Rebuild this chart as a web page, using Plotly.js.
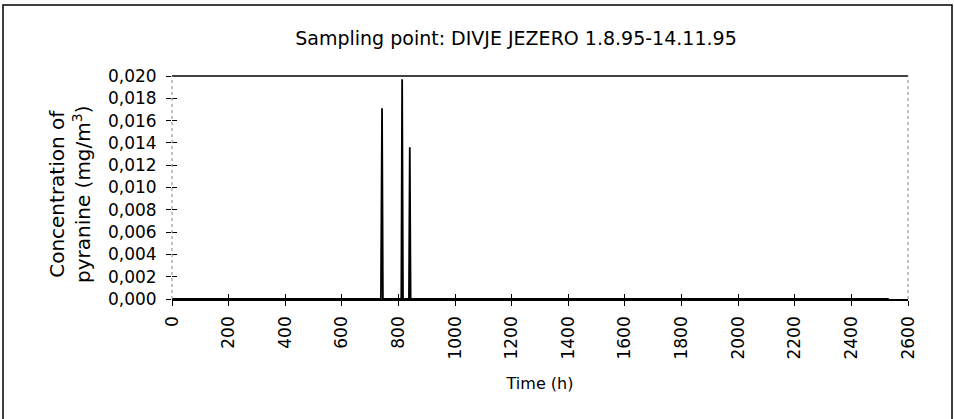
<!DOCTYPE html>
<html>
<head>
<meta charset="utf-8">
<script src="https://cdn.plot.ly/plotly-3.0.1.min.js"></script>
<style>
html,body{margin:0;padding:0;background:#fff;}
#chart{width:954px;height:419px;}
</style>
</head>
<body>
<div id="chart"></div>
<script>
const timeH = [0, 738, 742, 745, 810, 813, 816, 837, 840, 843, 2532];
const concentration = [0, 0, 0.0171, 0, 0, 0.0197, 0, 0, 0.0136, 0, 0];
const xTicks = [0, 200, 400, 600, 800, 1000, 1200, 1400, 1600, 1800, 2000, 2200, 2400, 2600];
const yTicks = [0, 0.002, 0.004, 0.006, 0.008, 0.010, 0.012, 0.014, 0.016, 0.018, 0.020];
const titleText = 'Sampling point: DIVJE JEZERO 1.8.95-14.11.95';
const xTitle = 'Time (h)';
const yTitle = 'Concentration of<br>pyranine (mg/m<sup>3</sup>)';

const fam = 'DejaVu Sans, Arial, sans-serif';
const tickFont = {family: fam, size: 17, color: '#000'};
const titleFont = {family: fam, size: 19, color: '#000'};
const xTitleFont = {family: fam, size: 16, color: '#000'};
const yTitleFont = {family: fam, size: 20, color: '#000'};

const trace = {
  x: timeH, y: concentration, type: 'scatter', mode: 'lines',
  line: {color: '#000', width: 1.8}, showlegend: false, hoverinfo: 'none'
};
const traceInner = {
  x: [0], y: [0], xaxis: 'x2', yaxis: 'y2', type: 'scatter', mode: 'markers',
  marker: {opacity: 0}, showlegend: false, hoverinfo: 'none'
};

const layout = {
  width: 954, height: 419,
  margin: {l: 172, r: 46, t: 76, b: 120},
  paper_bgcolor: '#fff', plot_bgcolor: '#fff',
  separators: ',.',
  font: tickFont,
  title: {text: titleText, font: titleFont, x: 516/954, xanchor: 'center', y: 1 - 38/419, yanchor: 'middle'},
  xaxis: {
    range: [0, 2600], tickvals: xTicks, ticktext: xTicks.map(String),
    tickangle: -90, ticks: 'outside', ticklen: 5, tickcolor: '#000', tickwidth: 1,
    ticklabelstandoff: 4,
    showgrid: false, zeroline: false, showline: true, linecolor: '#000', linewidth: 1.5,
    tickfont: tickFont, title: {text: xTitle, font: xTitleFont, standoff: 19}, fixedrange: true
  },
  yaxis: {
    range: [0, 0.020], tickvals: yTicks, tickformat: '.3f',
    ticks: 'outside', ticklen: 5, tickcolor: '#000', tickwidth: 1,
    ticklabelstandoff: 6,
    showgrid: false, zeroline: false, showline: false,
    tickfont: tickFont, fixedrange: true
  },
  xaxis2: {
    overlaying: 'x', range: [0, 2600], tickvals: xTicks, ticks: 'inside', ticklen: 5,
    tickcolor: '#000', showticklabels: false, showgrid: false, zeroline: false, showline: false, fixedrange: true
  },
  yaxis2: {
    overlaying: 'y', range: [0, 0.020], tickvals: yTicks, ticks: 'inside', ticklen: 5,
    tickcolor: '#000', showticklabels: false, showgrid: false, zeroline: false, showline: false, fixedrange: true
  },
  annotations: [
    {text: yTitle, xref: 'paper', yref: 'paper', x: (70 - 172) / 736, y: (299 - 194) / 223,
     xanchor: 'center', yanchor: 'middle', textangle: -90, showarrow: false, font: yTitleFont}
  ],
  shapes: [
    {type: 'line', xref: 'paper', yref: 'paper', x0: 0, x1: 1, y0: 1, y1: 1, line: {color: '#000', width: 1.5}},
    {type: 'line', xref: 'paper', yref: 'paper', x0: 0, x1: 0, y0: 0, y1: 1, line: {color: '#888', width: 1, dash: 'dot'}},
    {type: 'line', xref: 'paper', yref: 'paper', x0: 1, x1: 1, y0: 0, y1: 1, line: {color: '#888', width: 1, dash: 'dot'}},
    {type: 'rect', xref: 'paper', yref: 'paper',
     x0: (3 - 172) / 736, x1: (952 - 172) / 736,
     y0: (299 - 428) / 223, y1: (299 - 5) / 223,
     line: {color: '#000', width: 1.5}, fillcolor: 'rgba(0,0,0,0)', layer: 'below'}
  ]
};

Plotly.newPlot('chart', [trace, traceInner], layout, {staticPlot: true, displayModeBar: false});
</script>
</body>
</html>
